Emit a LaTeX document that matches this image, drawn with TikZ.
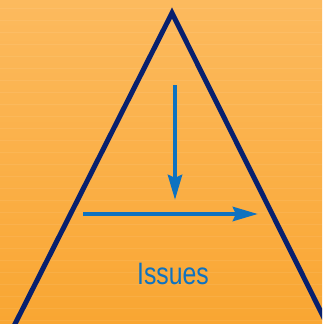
\documentclass[tikz,border=0pt]{standalone}
\usepackage{fontspec}
\newfontfamily\issuefont[FakeStretch=0.8]{Liberation Sans}
\usetikzlibrary{arrows.meta,calc}
\definecolor{bgtop}{RGB}{252,186,94}
\definecolor{bgbot}{RGB}{249,166,50}
\definecolor{navy}{RGB}{8,32,110}
\definecolor{arrowblue}{RGB}{14,114,192}
\tikzset{
  tri/.style={draw=navy, line width=5pt, line join=miter},
  bluearrow/.style={draw=arrowblue, line width=4.5pt, -{Stealth[length=25pt,width=14pt,inset=3pt]}},
  label/.style={text=arrowblue, font=\issuefont\fontsize{31}{31}\selectfont, inner sep=0pt}
}
\begin{document}
\begin{tikzpicture}[x=1pt,y=-1pt]
\useasboundingbox (0,0) rectangle (322,324);
\clip (0,0) rectangle (322,324);
\shade[top color=bgtop, bottom color=bgbot] (0,0) rectangle (322,324);
\foreach \yy in {8,20,...,320} {
  \fill[white, opacity=0.07] (0,\yy) rectangle (322,\yy+1);
}
\coordinate (apex) at (172,13);
\coordinate (bl) at (15,324);
\coordinate (br) at (327,324);
\draw[tri] ($(apex)!1.03!(bl)$) -- (apex) -- ($(apex)!1.03!(br)$);
\coordinate (vs) at (175,85);
\coordinate (ve) at (175,200);
\coordinate (hs) at (83,214);
\coordinate (he) at (258,214);
\draw[bluearrow] (vs) -- (ve);
\draw[bluearrow] (hs) -- (he);
\node[label] (issues) at (173,274) {Issues};
\end{tikzpicture}
\end{document}
